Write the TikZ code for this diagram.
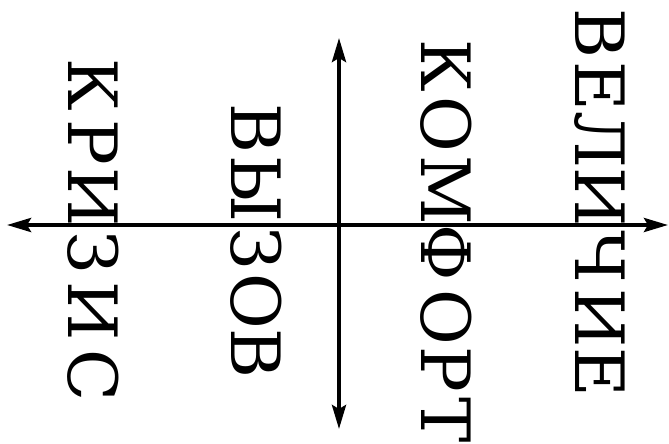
\documentclass[tikz,border=0pt]{standalone}
\usepackage{fontspec}
\newfontfamily\wordfont{DejaVu Serif}
\usetikzlibrary{arrows.meta}
\tikzset{
  axis/.style={line width=3.8pt, {Stealth[length=24pt,width=14pt,inset=4pt]}-{Stealth[length=24pt,width=14pt,inset=4pt]}},
  letter/.style={rotate=-90, anchor=center, inner sep=0pt, text height=49.6pt, text depth=0pt,
    font=\wordfont\fontsize{68}{80}\selectfont}
}
\begin{document}
\begin{tikzpicture}[x=1pt,y=-1pt]
\useasboundingbox (0,0) rectangle (669,444);
\coordinate (hl) at (7,225);
\coordinate (hr) at (668,225);
\coordinate (vt) at (339,38);
\coordinate (vb) at (339,429);
% КРИЗИС
\foreach \c/\y [count=\i] in {К/85,Р/142,И/197,З/253,И/311,С/376}
  \node[letter] (krizis\i) at (93,\y) {\c};
% ВЫЗОВ
\foreach \c/\y [count=\i] in {В/128,Ы/189,З/249,О/301,В/353}
  \node[letter] (vyzov\i) at (256,\y) {\c};
% КОМФОРТ
\foreach \c/\y [count=\i] in {К/66,О/124,М/190,Ф/253,О/317,Р/369,Т/420}
  \node[letter] (komfort\i) at (446,\y) {\c};
% ВЕЛИЧИЕ
\foreach \c/\y [count=\i] in {В/33,Е/86,Л/140,И/197,Ч/257,И/318,Е/372}
  \node[letter] (velichie\i) at (600,\y) {\c};
\draw[axis] (hl) -- (hr);
\draw[axis] (vt) -- (vb);
\end{tikzpicture}
\end{document}
